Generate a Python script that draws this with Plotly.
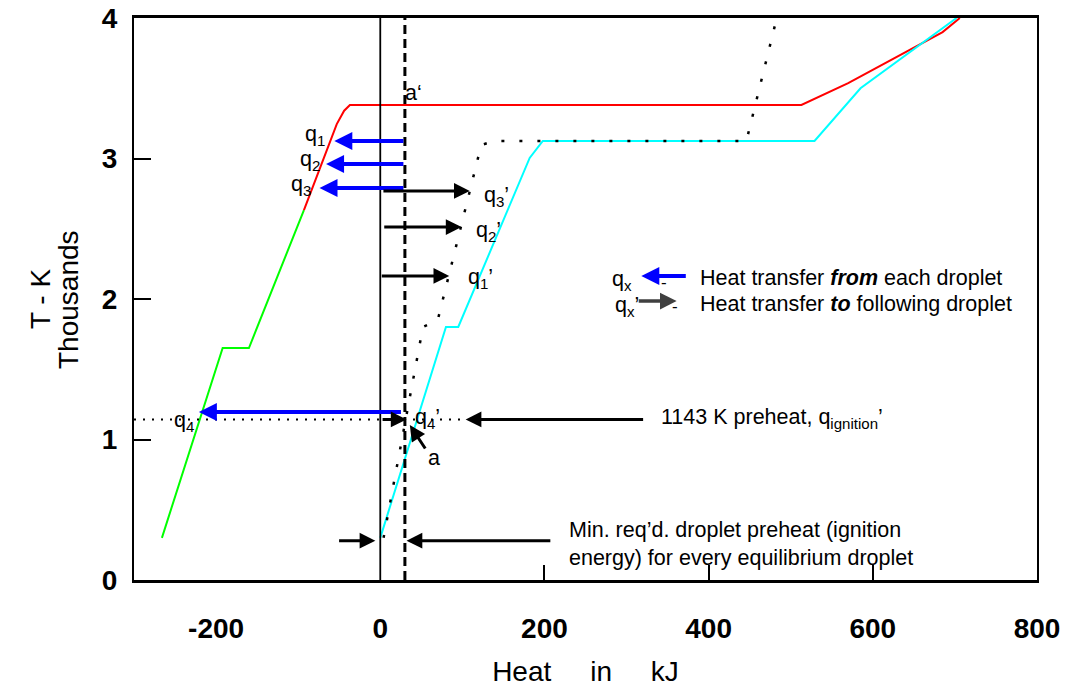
import plotly.graph_objects as go

# ---------------- data (heat in kJ, temperature in K) ----------------
green_x = [-266, -192, -160, -93]
green_y = [300, 1651, 1651, 2633]

red_x = [-93, -53, -44, -37, 513, 570, 685, 706]
red_y = [2633, 3245, 3340, 3381, 3381, 3537, 3900, 4000]

cyan_x = [0, 80, 95, 182, 198, 529, 585, 702]
cyan_y = [300, 1801, 1801, 3004, 3125, 3125, 3500, 4000]

dotted_x = [4, 52, 70, 123, 139, 446, 483]
dotted_y = [300, 1801, 1850, 3096, 3125, 3125, 4000]

preheat_x = [-300, 105]
preheat_y = [1143, 1143]

zero_line_x = [0, 0]
ignition_line_x = [30, 30]
vline_y = [0, 4000]

x_tickvals = [-200, 0, 200, 400, 600, 800]
x_ticktext = ["-200", "0", "200", "400", "600", "800"]
x_minor_ticks = [200, 400, 600]
y_tickvals = [0, 1000, 2000, 3000, 4000]
y_ticktext = ["0", "1", "2", "3", "4"]

# heat-transfer arrows: (tail_x, tip_x, y)
blue_arrows = [(30, -56, 3125), (30, -66, 2961), (30, -74, 2790), (27, -221, 1196)]
black_arrows = [(2, 109, 2769), (3, 99, 2512), (0, 84, 2164), (1, 32, 1143),
                (322, 104, 1143), (-52, -6, 280), (209, 32, 280)]

q_labels = [
    ("q<sub>1</sub>", -79, 3167), ("q<sub>2</sub>", -86, 2989), ("q<sub>3</sub>", -96, 2811),
    ("q<sub>4</sub>", -239, 1130), ("q<sub>4</sub>’", 58, 1146),
    ("q<sub>3</sub>’", 142, 2733), ("q<sub>2</sub>’", 132, 2477), ("q<sub>1</sub>’", 122, 2149),
]

FONT = "Liberation Sans, Arial, sans-serif"
TXT = 21.5

fig = go.Figure()

line_w = 2
fig.add_trace(go.Scatter(x=green_x, y=green_y, mode="lines", line=dict(color="#00FF00", width=line_w)))
fig.add_trace(go.Scatter(x=red_x, y=red_y, mode="lines", line=dict(color="#FF0000", width=line_w)))
fig.add_trace(go.Scatter(x=cyan_x, y=cyan_y, mode="lines", line=dict(color="#00FFFF", width=line_w)))
fig.add_trace(go.Scatter(x=dotted_x, y=dotted_y, mode="lines",
                         line=dict(color="black", width=2.5, dash="3px,15px")))
fig.add_trace(go.Scatter(x=preheat_x, y=preheat_y, mode="lines",
                         line=dict(color="black", width=2, dash="2px,7px")))
fig.add_trace(go.Scatter(x=zero_line_x, y=vline_y, mode="lines", line=dict(color="black", width=1.8)))
fig.add_trace(go.Scatter(x=ignition_line_x, y=vline_y, mode="lines",
                         line=dict(color="black", width=3, dash="9px,5px")))
# invisible trace for the secondary x axis carrying the inside ticks
fig.add_trace(go.Scatter(x=[-300, 800], y=[0, 0], mode="lines", line=dict(width=0),
                         xaxis="x2", showlegend=False, hoverinfo="skip"))

annotations = []

def arrow(tail_x, tip_x, y, color, width=3.5, size=0.9, tail_y=None, tip_y=None):
    annotations.append(dict(
        x=tip_x, y=y if tip_y is None else tip_y,
        ax=tail_x, ay=y if tail_y is None else tail_y,
        xref="x", yref="y", axref="x", ayref="y",
        text="", showarrow=True, arrowhead=2, arrowsize=size,
        arrowwidth=width, arrowcolor=color))

for tx, hx, yy in blue_arrows:
    arrow(tx, hx, yy, "#0000FF", width=4, size=0.9)
for tx, hx, yy in black_arrows:
    arrow(tx, hx, yy, "black", width=3, size=1.05)
# arrow "a"
arrow(56, 36, None, "black", width=3, size=1.05, tail_y=925, tip_y=1103)

def label(text, x, y, size=TXT, xanchor="center", align="center"):
    annotations.append(dict(x=x, y=y, xref="x", yref="y", text=text, showarrow=False,
                            xanchor=xanchor, yanchor="middle", align=align,
                            font=dict(family=FONT, size=size, color="black")))

for t, lx, ly in q_labels:
    label(t, lx, ly)
label("a‘", 40, 3466)
label("a", 66, 868)
label("1143 K preheat, q<sub>ignition</sub>’", 340, 1150, xanchor="left")
label("Min. req’d. droplet preheat (ignition<br>energy) for every equilibrium droplet",
      228, 256, xanchor="left", align="left")

# legend drawn as annotations
arrow(374, 318, 2164, "#0000FF", width=4, size=0.9)
arrow(313, 361, 1985, "#404040", width=3.5, size=0.95)
label("q<sub>x</sub>", 295, 2130)
label("-", 346, 2120, size=17)
label("q<sub>x</sub>’", 301, 1950)
label("-", 359, 1945, size=17)
label("Heat transfer <b><i>from</i></b> each droplet", 387, 2152, xanchor="left")
label("Heat transfer <b><i>to</i></b> following droplet", 387, 1964, xanchor="left")

# y-axis title lines (rotated)
for txt, px in [("T - K", -0.104), ("Thousands", -0.0731)]:
    annotations.append(dict(x=px, y=0.5, xref="paper", yref="paper", text=txt,
                            textangle=-90, showarrow=False, xanchor="center", yanchor="middle",
                            font=dict(family=FONT, size=28, color="black")))

fig.update_layout(
    width=1070, height=688,
    margin=dict(l=134, r=33, t=18, b=108, autoexpand=False),
    paper_bgcolor="white", plot_bgcolor="white",
    showlegend=False,
    font=dict(family=FONT, color="black"),
    annotations=annotations,
    xaxis=dict(range=[-300, 800], tickvals=x_tickvals, ticktext=x_ticktext,
               ticks="", showgrid=False, zeroline=False,
               showline=True, linecolor="black", linewidth=3, mirror=True,
               tickfont=dict(family=FONT, size=28, color="black", weight="bold"),
               ticklabelstandoff=21,
               title=dict(text="Heat\u00a0\u00a0\u00a0\u00a0 in\u00a0\u00a0\u00a0\u00a0 kJ",
                          font=dict(family=FONT, size=28, color="black"),
                          standoff=19)),
    xaxis2=dict(range=[-300, 800], overlaying="x", side="bottom", matches="x",
                tickvals=x_minor_ticks, ticks="inside", ticklen=15, tickwidth=2,
                tickcolor="black", showticklabels=False, showgrid=False, zeroline=False,
                showline=False),
    yaxis=dict(range=[0, 4000], tickvals=y_tickvals, ticktext=y_ticktext,
               ticks="inside", ticklen=17, tickwidth=2, tickcolor="black",
               showgrid=False, zeroline=False,
               showline=True, linecolor="black", linewidth=2, mirror=True,
               tickfont=dict(family=FONT, size=28, color="black", weight="bold"),
               ticklabelstandoff=9),
)

fig.write_html("out.html")
